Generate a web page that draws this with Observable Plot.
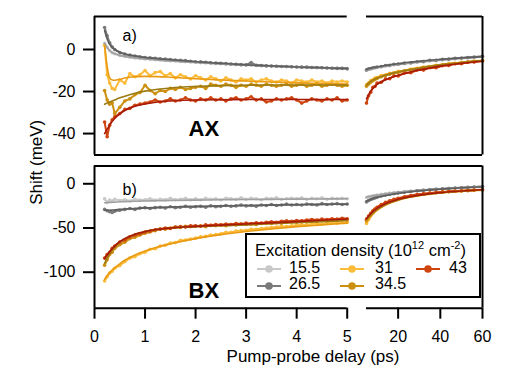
<!DOCTYPE html>
<html><head><meta charset="utf-8">
<script src="https://cdn.jsdelivr.net/npm/d3@7"></script>
<script src="https://cdn.jsdelivr.net/npm/@observablehq/plot@0.6"></script>
<style>
html,body{margin:0;padding:0;background:#fff;}
#chart{position:relative;width:523px;height:370px;overflow:hidden;font-family:"Liberation Sans",Arial,Helvetica,sans-serif;}
#chart svg{position:absolute;left:0;top:0;}
#legend{position:absolute;left:245px;top:233px;width:236px;height:65px;box-sizing:border-box;border:2px solid #000;background:#fff;font-size:16px;line-height:16px;color:#000;}
#legend .hdr{position:absolute;left:8px;top:6.5px;white-space:nowrap;font-size:16.5px;}
#legend sup{font-size:11px;vertical-align:0;position:relative;top:-7px;line-height:0;}
#legend .lbl{position:absolute;white-space:nowrap;}
#legend svg.sw{position:absolute;}
</style></head>
<body><div id="chart"></div>
<script>
// ---------- categories & styling ----------
const densities = ["15.5", "26.5", "31", "34.5", "43"];
const dataColors = ["#c8c8c8", "#7a7a7a", "#fbbc3c", "#cc9010", "#cf4510"];
const fitColors  = ["#a0a0a0", "#5e5e5e", "#e99a12", "#9c7b12", "#a81a08"];
const legendCol = [0, 0, 1, 1, 2];
const legendRow = [0, 1, 0, 1, 0];

// ---------- time grids (ps) ----------
const tEarly = [0.2, 0.25, 0.3, 0.35, 0.4, 0.5, 0.6, 0.7, 0.8, 0.9,
  1.0, 1.1, 1.2, 1.3, 1.4, 1.5, 1.6, 1.7, 1.8, 1.9,
  2.0, 2.1, 2.2, 2.3, 2.4, 2.5, 2.6, 2.7, 2.8, 2.9,
  3.0, 3.1, 3.2, 3.3, 3.4, 3.5, 3.6, 3.7, 3.8, 3.9,
  4.0, 4.1, 4.2, 4.3, 4.4, 4.5, 4.6, 4.7, 4.8, 4.9, 5.0];
const tLate = [5, 6, 7, 8, 9, 10, 12, 14, 16, 18, 20, 23, 26, 29, 32, 35, 38, 41, 44, 47, 50, 53, 56, 60];
const tFitEarly = [0.2, 0.25, 0.3, 0.35, 0.4, 0.5, 0.6, 0.8, 1.0, 1.25, 1.5, 2, 2.5, 3, 3.5, 4, 4.5, 5];
const tFitLate = [5, 6, 8, 10, 13, 16, 20, 25, 30, 35, 40, 50, 60];

// ---------- tick labels ----------
const xTicksEarly = [0, 1, 2, 3, 4, 5];
const xTicksLate = [20, 40, 60];
const yTicksAX = [0, -20, -40];
const yTicksBX = [0, -50, -100];

// ---------- panel a) AX : measured shifts (meV) ----------
const axEarly_15_5 = [3.0, 1.0, -0.5, -1.5, -2.0, -2.8, -3.3, -3.7, -4.0, -4.3,
  -4.5, -4.7, -4.9, -5.0, -5.2, -5.4, -5.5, -5.7, -5.8, -6.0,
  -6.1, -6.3, -6.4, -6.5, -6.7, -6.8, -7.0, -7.1, -7.2, -7.3,
  -7.4, -7.5, -7.6, -7.7, -7.8, -7.9, -8.0, -8.1, -8.2, -8.3,
  -8.3, -8.4, -8.5, -8.6, -8.7, -8.7, -8.8, -8.9, -9.0, -9.0, -9.1];
const axEarly_26_5 = [10.5, 6.5, 3.2, 1.2, 0.0, -1.4, -2.2, -2.7, -3.1, -3.5,
  -3.8, -4.0, -4.2, -4.4, -4.6, -4.8, -5.0, -5.1, -5.3, -5.6,
  -5.8, -5.9, -6.1, -6.3, -6.4, -6.6, -6.7, -6.9, -7.0, -7.2,
  -7.3, -6.2, -7.5, -7.6, -7.8, -7.9, -8.0, -8.1, -8.1, -8.2,
  -8.3, -8.4, -8.4, -8.6, -8.6, -8.7, -8.8, -8.9, -9.0, -9.0, -9.2];
const axEarly_31 = [2.0, -12.0, -16.0, -18.5, -19.0, -14.5, -16.0, -11.5, -13.0, -12.0,
  -10.0, -12.5, -11.0, -10.5, -12.5, -11.5, -13.5, -12.0, -13.0, -14.0,
  -12.5, -13.5, -14.5, -13.0, -14.0, -15.0, -13.5, -14.5, -15.5, -14.0,
  -14.5, -14.0, -15.5, -14.5, -14.0, -15.0, -15.5, -14.5, -15.0, -16.0,
  -14.5, -15.0, -15.5, -14.5, -15.5, -15.0, -16.0, -15.0, -15.5, -15.0, -15.5];
const axEarly_34_5 = [-19.5, -24.0, -26.0, -25.5, -30.5, -27.5, -24.5, -23.5, -21.5, -20.5,
  -17.0, -19.5, -21.0, -19.5, -20.0, -18.5, -19.0, -18.0, -19.0, -18.5,
  -18.0, -17.5, -18.5, -16.5, -17.0, -17.5, -16.5, -17.0, -18.0, -17.0,
  -17.5, -16.5, -17.0, -17.5, -16.5, -17.0, -17.5, -17.0, -16.5, -17.5,
  -17.0, -16.5, -17.5, -17.0, -16.5, -17.5, -17.0, -16.5, -17.0, -17.5, -17.0];
const axEarly_43 = [-34.5, -41.5, -36.0, -33.5, -32.0, -30.5, -28.5, -28.0, -26.5, -26.0,
  -25.5, -25.0, -24.0, -25.0, -24.5, -23.5, -24.5, -24.0, -23.0, -24.0,
  -24.5, -23.5, -24.0, -23.0, -24.0, -23.5, -24.5, -23.5, -23.0, -24.0,
  -23.5, -22.5, -24.0, -23.5, -25.0, -24.5, -23.5, -24.0, -23.5, -23.0,
  -24.0, -25.5, -24.5, -23.5, -24.0, -24.5, -23.5, -24.0, -23.0, -24.5, -24.0];
const axLate_15_5 = [-9.9, -9.5, -9.3, -9.0, -8.8, -8.6, -8.3, -7.9, -7.7, -7.3, -7.1, -6.8, -6.5, -6.1, -5.9, -5.5, -5.3, -5.0, -4.8, -4.5, -4.3, -4.0, -3.8, -3.5];
const axLate_26_5 = [-9.7, -9.2, -9.1, -8.7, -8.6, -8.3, -8.1, -7.6, -7.5, -7.0, -6.9, -6.5, -6.3, -5.8, -5.7, -5.2, -5.1, -4.7, -4.6, -4.2, -4.1, -3.8, -3.6, -3.2];
const axLate_31 = [-16.8, -16.0, -14.8, -14.5, -13.6, -13.4, -12.4, -12.1, -11.3, -11.1, -10.4, -10.1, -9.3, -9.0, -8.3, -8.1, -7.5, -7.3, -6.7, -6.6, -6.1, -6.0, -5.5, -5.3];
const axLate_34_5 = [-17.5, -16.5, -15.6, -14.9, -14.3, -13.8, -13.0, -12.4, -11.8, -11.3, -10.9, -10.3, -9.7, -9.2, -8.7, -8.2, -7.8, -7.4, -7.0, -6.7, -6.4, -6.0, -5.7, -5.3];
const axLate_43 = [-25.5, -22.0, -20.3, -18.0, -17.6, -16.0, -15.6, -14.0, -13.9, -12.6, -12.6, -11.2, -11.1, -9.8, -9.8, -8.7, -8.7, -7.7, -7.6, -6.8, -6.8, -6.1, -6.0, -5.5];
// fits
const axFitEarly_15_5 = [3.0, 1.0, -0.5, -1.5, -2.0, -2.8, -3.3, -4.0, -4.5, -5.1, -5.5, -6.2, -6.9, -7.4, -7.9, -8.3, -8.7, -9.0];
const axFitEarly_26_5 = [9.0, 5.0, 2.5, 1.0, 0.0, -1.3, -2.1, -3.1, -3.8, -4.4, -4.9, -5.8, -6.6, -7.3, -7.8, -8.3, -8.7, -9.0];
const axFitEarly_31 = [2.0, -8.0, -13.5, -14.5, -14.6, -14.2, -13.6, -13.0, -12.8, -12.9, -13.2, -13.9, -14.5, -15.0, -15.5, -15.9, -16.2, -16.5];
const axFitEarly_34_5 = [-26.0, -25.5, -25.0, -24.5, -24.0, -23.0, -22.2, -20.8, -19.8, -18.9, -18.3, -17.6, -17.2, -17.0, -16.9, -16.9, -16.9, -16.9];
const axFitEarly_43 = [-40.0, -38.0, -36.0, -34.2, -32.8, -30.6, -29.0, -27.0, -25.9, -25.0, -24.5, -24.0, -23.9, -23.8, -23.8, -23.8, -23.8, -23.8];
const axFitLate_15_5 = [-9.8, -9.5, -9.0, -8.6, -8.1, -7.6, -7.0, -6.4, -5.8, -5.3, -4.9, -4.2, -3.6];
const axFitLate_26_5 = [-9.5, -9.2, -8.7, -8.3, -7.8, -7.3, -6.8, -6.1, -5.6, -5.1, -4.7, -4.0, -3.4];
const axFitLate_31 = [-16.5, -15.6, -14.3, -13.3, -12.2, -11.4, -10.5, -9.5, -8.6, -7.9, -7.2, -6.1, -5.2];
const axFitLate_34_5 = [-17.0, -16.0, -14.6, -13.6, -12.5, -11.6, -10.7, -9.7, -8.8, -8.0, -7.3, -6.2, -5.3];
const axFitLate_43 = [-23.5, -21.5, -18.6, -16.6, -14.9, -13.6, -12.3, -10.9, -9.7, -8.8, -7.9, -6.6, -5.6];

// ---------- panel b) BX : measured shifts (meV) ----------
const bxEarly_15_5 = [-17.0, -21.0, -18.5, -19.5, -17.5, -19.0, -18.0, -19.5, -17.5, -18.5,
  -18.0, -17.0, -18.5, -17.5, -18.0, -16.5, -18.0, -17.5, -16.5, -18.0,
  -17.0, -18.0, -16.5, -17.5, -17.0, -18.0, -16.5, -17.0, -17.5, -16.0,
  -17.5, -16.5, -17.0, -18.0, -16.5, -17.0, -16.0, -17.5, -17.0, -16.5,
  -17.0, -16.0, -17.5, -16.5, -17.0, -16.0, -17.5, -16.5, -17.0, -16.5, -17.0];
const bxEarly_26_5 = [-29.0, -30.5, -31.5, -32.5, -31.0, -30.0, -29.0, -28.0, -29.0, -27.5,
  -27.0, -28.0, -27.0, -26.5, -27.5, -26.0, -27.0, -26.5, -25.5, -26.5,
  -26.0, -25.5, -26.5, -25.0, -26.0, -25.5, -24.5, -25.5, -25.0, -24.0,
  -25.0, -24.5, -25.5, -24.0, -24.5, -23.5, -24.5, -24.0, -23.0, -24.0,
  -23.5, -24.0, -23.0, -23.5, -24.0, -22.5, -23.5, -23.0, -22.5, -23.5, -23.0];
const bxEarly_31 = [-110.0, -105.0, -101.0, -99.0, -95.5, -92.5, -88.0, -84.0, -82.5, -79.0,
  -77.5, -74.0, -73.5, -70.5, -69.5, -67.0, -66.5, -64.0, -63.5, -62.5,
  -61.5, -60.0, -59.5, -58.0, -57.5, -56.5, -55.0, -55.0, -53.5, -53.0,
  -52.5, -51.5, -51.5, -50.5, -50.0, -49.5, -49.0, -48.0, -48.5, -47.5,
  -47.0, -46.5, -46.5, -45.5, -45.0, -45.5, -44.5, -44.0, -44.5, -43.5, -43.5];
const bxEarly_34_5 = [-92.0, -86.0, -80.0, -77.5, -73.0, -69.0, -66.0, -62.0, -60.5, -58.0,
  -56.0, -54.5, -53.0, -51.0, -51.5, -50.0, -49.0, -49.5, -48.0, -48.5,
  -48.0, -47.5, -48.5, -47.0, -47.5, -46.5, -47.5, -46.0, -46.5, -45.5,
  -46.0, -45.5, -46.0, -45.0, -44.5, -45.0, -44.0, -44.5, -43.5, -43.0,
  -43.5, -42.5, -43.0, -42.0, -42.5, -41.5, -42.0, -41.0, -41.5, -40.5, -41.0];
const bxEarly_43 = [-84.0, -80.0, -77.5, -73.0, -70.5, -66.0, -63.5, -60.0, -58.0, -56.5,
  -54.5, -53.5, -52.0, -51.5, -50.0, -50.5, -49.0, -48.5, -49.0, -47.5,
  -47.5, -48.0, -46.5, -47.0, -46.0, -46.5, -45.5, -46.0, -45.0, -45.5,
  -44.5, -45.0, -44.0, -44.5, -43.5, -43.0, -43.5, -42.5, -42.0, -42.5,
  -41.5, -42.0, -41.0, -40.5, -41.0, -40.0, -40.5, -39.5, -40.0, -39.0, -39.5];
const bxLate_15_5 = [-15.5, -14.8, -14.2, -13.7, -13.2, -12.8, -12.0, -11.3, -10.6, -10.0, -9.5, -8.8, -8.2, -7.6, -7.1, -6.6, -6.1, -5.6, -5.2, -4.8, -4.4, -4.0, -3.6, -3.1];
const bxLate_26_5 = [-20.5, -19.0, -17.8, -16.8, -16.0, -15.2, -13.9, -12.8, -11.9, -11.1, -10.4, -9.5, -8.7, -8.0, -7.4, -6.8, -6.3, -5.8, -5.3, -4.9, -4.5, -4.1, -3.7, -3.2];
const bxLate_31 = [-45.0, -40.5, -36.5, -33.0, -30.5, -28.5, -25.0, -22.5, -20.5, -18.8, -17.3, -15.5, -14.0, -12.8, -11.8, -10.9, -10.2, -9.6, -9.0, -8.5, -8.1, -7.7, -7.3, -6.9];
const bxLate_34_5 = [-42.0, -38.5, -35.0, -32.0, -29.5, -27.5, -24.3, -21.8, -19.9, -18.3, -16.9, -15.2, -13.8, -12.6, -11.6, -10.8, -10.1, -9.5, -9.0, -8.5, -8.1, -7.7, -7.3, -6.9];
const bxLate_43 = [-40.0, -36.5, -33.5, -30.5, -28.5, -26.5, -23.5, -21.0, -19.2, -17.6, -16.3, -14.7, -13.3, -12.2, -11.3, -10.5, -9.8, -9.2, -8.7, -8.3, -7.9, -7.5, -7.1, -6.7];
// fits
const bxFitEarly_15_5 = [-21.5, -21.3, -21.1, -20.9, -20.7, -20.4, -20.2, -19.8, -19.5, -19.2, -18.9, -18.5, -18.1, -17.8, -17.6, -17.4, -17.2, -17.0];
const bxFitEarly_26_5 = [-30.0, -30.0, -29.9, -29.7, -29.5, -29.0, -28.6, -27.9, -27.3, -26.8, -26.3, -25.6, -25.0, -24.5, -24.1, -23.7, -23.3, -23.0];
const bxFitEarly_31 = [-108.0, -104.0, -100.5, -97.5, -95.0, -90.5, -86.5, -80.5, -76.0, -71.5, -68.0, -62.0, -57.5, -54.0, -51.0, -48.5, -46.5, -44.5];
const bxFitEarly_34_5 = [-90.0, -84.0, -79.0, -75.0, -71.5, -66.0, -62.0, -57.0, -54.0, -51.5, -50.0, -48.5, -47.5, -46.5, -45.2, -44.0, -42.8, -41.5];
const bxFitEarly_43 = [-85.0, -80.5, -77.0, -73.5, -70.5, -65.5, -62.0, -57.0, -54.0, -51.5, -50.0, -48.2, -46.8, -45.5, -44.2, -42.8, -41.2, -39.8];
const bxFitLate_15_5 = [-15.0, -14.5, -13.6, -12.8, -11.7, -10.8, -9.6, -8.4, -7.3, -6.4, -5.6, -4.3, -3.2];
const bxFitLate_26_5 = [-19.5, -18.6, -17.0, -15.6, -13.9, -12.5, -10.9, -9.3, -8.0, -6.9, -6.0, -4.5, -3.3];
const bxFitLate_31 = [-43.0, -40.0, -34.5, -30.2, -25.5, -22.0, -18.7, -15.6, -13.4, -11.7, -10.3, -8.3, -6.9];
const bxFitLate_34_5 = [-41.0, -38.2, -33.2, -29.2, -24.8, -21.5, -18.3, -15.3, -13.2, -11.6, -10.3, -8.3, -6.9];
const bxFitLate_43 = [-39.5, -36.5, -31.5, -27.8, -23.8, -20.6, -17.6, -14.8, -12.8, -11.3, -10.0, -8.1, -6.8];

// ---------- assemble ----------
const panels = [
  {tag: "a)", name: "AX", yDomain: [-50.2, 15.7], yTicks: yTicksAX, mt: 16, mb: 215.5, tagDy: 13.5, nameDy: 104, xAxis: false,
   early: [axEarly_15_5, axEarly_26_5, axEarly_31, axEarly_34_5, axEarly_43],
   late: [axLate_15_5, axLate_26_5, axLate_31, axLate_34_5, axLate_43],
   fitEarly: [axFitEarly_15_5, axFitEarly_26_5, axFitEarly_31, axFitEarly_34_5, axFitEarly_43],
   fitLate: [axFitLate_15_5, axFitLate_26_5, axFitLate_31, axFitLate_34_5, axFitLate_43]},
  {tag: "b)", name: "BX", yDomain: [-140.7, 20.1], yTicks: yTicksBX, mt: 165.5, mb: 62.3, tagDy: 18, nameDy: 116.5, xAxis: true,
   early: [bxEarly_15_5, bxEarly_26_5, bxEarly_31, bxEarly_34_5, bxEarly_43],
   late: [bxLate_15_5, bxLate_26_5, bxLate_31, bxLate_34_5, bxLate_43],
   fitEarly: [bxFitEarly_15_5, bxFitEarly_26_5, bxFitEarly_31, bxFitEarly_34_5, bxFitEarly_43],
   fitLate: [bxFitLate_15_5, bxFitLate_26_5, bxFitLate_31, bxFitLate_34_5, bxFitLate_43]}
];

const rows = (times, vals) => vals.map((v, j) => ({t: times[j], v}));
const FONT = "'Liberation Sans', Arial, Helvetica, sans-serif";

function makePlot(p, left) {
  const tD = left ? tEarly : tLate, tF = left ? tFitEarly : tFitLate;
  const dataSets = left ? p.early : p.late, fitSets = left ? p.fitEarly : p.fitLate;
  const [y0, y1] = p.yDomain;
  const marks = [];
  dataSets.forEach((vals, i) => {
    const d = rows(tD, vals);
    marks.push(Plot.line(d, {x: "t", y: "v", stroke: dataColors[i], strokeWidth: 2}));
    marks.push(Plot.dot(d, {x: "t", y: "v", r: 1.8, fill: dataColors[i], stroke: "none"}));
  });
  fitSets.forEach((vals, i) => {
    marks.push(Plot.line(rows(tF, vals), {x: "t", y: "v", stroke: fitColors[i], strokeWidth: 1.6, curve: "monotone-x"}));
  });
  const R = {stroke: "#000", strokeWidth: 2};
  if (left) {
    marks.push(Plot.ruleX([0], R));
    if (p.xAxis) {
      marks.push(Plot.ruleY([y1], R));
      marks.push(Plot.ruleY([y0], {...R, x1: 0, x2: 5}));
    } else {
      marks.push(Plot.ruleY([y0], R));
      marks.push(Plot.ruleY([y1], {...R, x1: 0, x2: 5}));
    }
    marks.push(Plot.axisY({ticks: p.yTicks, tickFormat: d => String(d), tickSize: 11, tickPadding: 8, label: null, fontSize: 16, strokeWidth: 2}));
    if (p.xAxis) {
      marks.push(Plot.axisX({ticks: xTicksEarly, tickFormat: d => String(d), tickSize: 11, tickPadding: 11, label: null, fontSize: 16, strokeWidth: 2}));
      marks.push(Plot.text(["Pump-probe delay (ps)"], {text: d => d, frameAnchor: "bottom", textAnchor: "middle", dx: 24.5, dy: 53.3, lineAnchor: "bottom", fontSize: 17, fill: "#000"}));
    } else {
      marks.push(Plot.text(["Shift (meV)"], {text: d => d, frameAnchor: "left", textAnchor: "middle", rotate: -90, dx: -57.8, dy: 76.5, lineAnchor: "middle", fontSize: 17, fill: "#000"}));
    }
    marks.push(Plot.text([p.tag], {text: d => d, frameAnchor: "top-left", dx: 28, dy: p.tagDy, textAnchor: "start", lineAnchor: "top", fontSize: 16, fill: "#000"}));
    marks.push(Plot.text([p.name], {text: d => d, frameAnchor: "top-left", dx: 94, dy: p.nameDy, textAnchor: "start", lineAnchor: "top", fontSize: 22, fontWeight: "bold", fill: "#000"}));
  } else {
    marks.push(Plot.ruleX([60], R));
    if (p.xAxis) {
      marks.push(Plot.ruleY([y0], {...R, x1: 5, x2: 60}));
      marks.push(Plot.axisX({ticks: xTicksLate, tickFormat: d => String(d), tickSize: 11, tickPadding: 11, label: null, fontSize: 16, strokeWidth: 2}));
    } else {
      marks.push(Plot.ruleY([y1], {...R, x1: 5, x2: 60}));
    }
  }
  return Plot.plot({
    width: 523, height: 370,
    marginLeft: 94, marginRight: 41, marginTop: p.mt, marginBottom: p.mb,
    x: left ? {domain: [0, 5], range: [94, 346.7], axis: null} : {domain: [5, 60], range: [366, 482], axis: null},
    y: {domain: p.yDomain, axis: null},
    style: {background: "none", fontFamily: FONT, fontSize: "16px", overflow: "visible", color: "#000"},
    marks
  });
}

const chart = document.getElementById("chart");
for (const p of panels) {
  chart.appendChild(makePlot(p, true));
  chart.appendChild(makePlot(p, false));
}

// ---------- legend ----------
const legend = document.createElement("div");
legend.id = "legend";
legend.innerHTML = '<div class="hdr">Excitation density (10<sup>12</sup> cm<sup>-2</sup>)</div>';
const swatchX = [9.7, 93, 168.7], labelX = [42, 128, 202];
const markerY = [34, 51], labelTop = [24.8, 40.8];
densities.forEach((d, i) => {
  const c = legendCol[i], r = legendRow[i];
  const sw = document.createElementNS("http://www.w3.org/2000/svg", "svg");
  sw.setAttribute("class", "sw");
  sw.setAttribute("width", 24); sw.setAttribute("height", 10);
  sw.style.left = swatchX[c] + "px"; sw.style.top = (markerY[r] - 5) + "px";
  sw.innerHTML = `<line x1="0" x2="24" y1="5" y2="5" stroke="${dataColors[i]}" stroke-width="2"/><circle cx="12" cy="5" r="3.8" fill="${dataColors[i]}"/>`;
  legend.appendChild(sw);
  const lb = document.createElement("div");
  lb.className = "lbl";
  lb.style.left = labelX[c] + "px"; lb.style.top = labelTop[r] + "px";
  lb.textContent = d;
  legend.appendChild(lb);
});
chart.appendChild(legend);
</script>
</body></html>
